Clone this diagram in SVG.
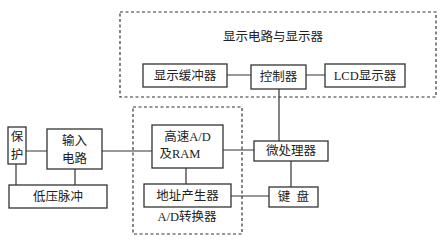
<svg xmlns="http://www.w3.org/2000/svg" width="441" height="242" viewBox="0 0 441 242">
<style>
.b{fill:#fff;stroke:#333;stroke-width:1.3}
.d{fill:none;stroke:#333;stroke-width:1.2;stroke-dasharray:3 2.5}
.c{stroke:#333;stroke-width:1.2;fill:none}
text{font-family:"Liberation Serif","Noto Sans CJK SC",serif;font-size:12.5px;fill:#222;text-anchor:middle;dominant-baseline:central}
</style>
<rect width="441" height="242" fill="#fff"/>
<g id="display-group"><rect class="d" x="120" y="12" width="316" height="85"/><text x="273" y="37">显示电路与显示器</text></g>
<g id="ad-group"><rect class="d" x="133" y="107" width="109" height="127"/><text x="187" y="217">A/D转换器</text></g>
<g id="connectors">
<path class="c" d="M227 75H251M306 75H325M279 89V141M26 151H47M16 164V185M75 169V185M102 151H152M223 150H254M186 168V184M291 161V187M231 196H269"/>
</g>
<g id="buffer"><rect class="b" x="143" y="64" width="84" height="23"/><text x="185" y="75.5">显示缓冲器</text></g>
<g id="controller"><rect class="b" x="251" y="65" width="55" height="24"/><text x="278.5" y="77">控制器</text></g>
<g id="lcd"><rect class="b" x="325" y="64" width="80" height="23"/><text x="365" y="75.5">LCD显示器</text></g>
<g id="protect"><rect class="b" x="8" y="127" width="18" height="37"/><text x="17" y="137">保</text><text x="17" y="155">护</text></g>
<g id="input"><rect class="b" x="47" y="129" width="55" height="40"/><text x="74.5" y="141">输入</text><text x="74.5" y="159">电路</text></g>
<g id="lowpulse"><rect class="b" x="9" y="185" width="98" height="23"/><text x="58" y="196.5">低压脉冲</text></g>
<g id="adc"><rect class="b" x="152" y="125" width="71" height="43"/><text x="187.5" y="137">高速A/D</text><text x="180" y="154">及RAM</text></g>
<g id="addr"><rect class="b" x="144" y="184" width="87" height="23"/><text x="187.5" y="195.5">地址产生器</text></g>
<g id="cpu"><rect class="b" x="254" y="141" width="74" height="20"/><text x="291" y="151">微处理器</text></g>
<g id="keyboard"><rect class="b" x="269" y="187" width="49" height="20"/><text x="293.5" y="197" xml:space="preserve">键  盘</text></g>
</svg>
